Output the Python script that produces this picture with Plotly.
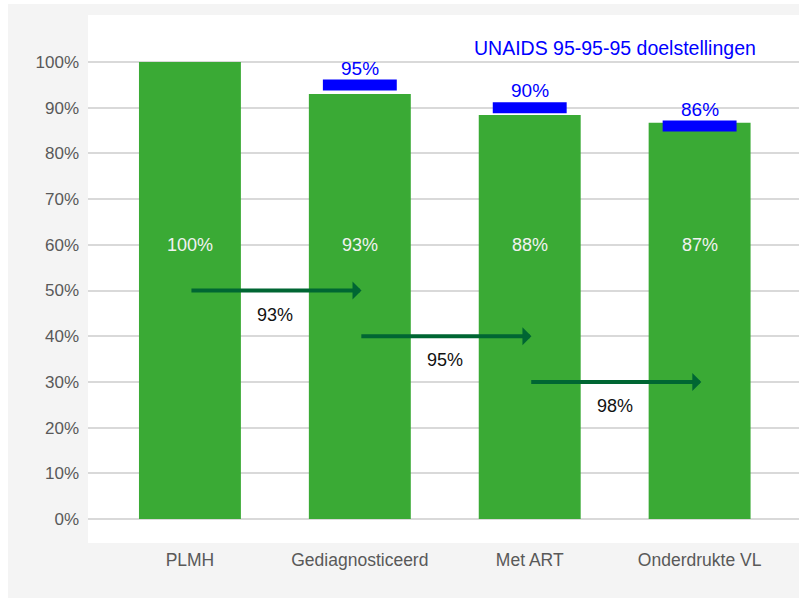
import plotly.graph_objects as go

categories = ["PLMH", "Gediagnosticeerd", "Met ART", "Onderdrukte VL"]
values = [100, 93, 88.4, 86.7]
value_labels = ["100%", "93%", "88%", "87%"]
targets = [95, 90, 86]
target_labels = ["95%", "90%", "86%"]
conversion_labels = ["93%", "95%", "98%"]
arrow_levels = [50, 40, 30]
y_ticks = list(range(0, 101, 10))
y_tick_labels = [f"{t}%" for t in y_ticks]
target_title = "UNAIDS 95-95-95 doelstellingen"

GREEN = "#3aaa35"
DARK_GREEN = "#006633"
BLUE = "#0000ff"
FONT = "Liberation Sans, Arial, sans-serif"

x_idx = list(range(len(categories)))

fig = go.Figure()
fig.add_trace(go.Bar(
    x=x_idx, y=values, width=0.6, marker=dict(color=GREEN, line=dict(width=0)),
    hoverinfo="skip",
))
target_thickness = 2.4
fig.add_trace(go.Bar(
    x=x_idx[1:], y=[target_thickness] * len(targets),
    base=[t - target_thickness / 2 for t in targets],
    width=0.435, marker=dict(color=BLUE, line=dict(width=0)), hoverinfo="skip",
))

annotations = []
for i, lab in enumerate(value_labels):
    annotations.append(dict(x=i, y=60, xref="x", yref="y", text=lab, showarrow=False,
                            font=dict(color="#f2f2f2", size=18, family=FONT)))
for i, (t, lab) in enumerate(zip(targets, target_labels)):
    annotations.append(dict(x=i + 1, y=t + 3.7, xref="x", yref="y", text=lab, showarrow=False,
                            font=dict(color=BLUE, size=19, family=FONT)))
for i, (lvl, lab) in enumerate(zip(arrow_levels, conversion_labels)):
    annotations.append(dict(x=i + 1.01, y=lvl, ax=i, ay=lvl, xref="x", yref="y",
                            axref="x", ayref="y", text="", showarrow=True,
                            arrowhead=1, arrowsize=0.75, arrowwidth=4,
                            arrowcolor=DARK_GREEN, standoff=0, startstandoff=0))
    annotations.append(dict(x=i + 0.5, y=lvl - 5.3, xref="x", yref="y", text=lab,
                            showarrow=False, font=dict(color="#111111", size=18, family=FONT)))
annotations.append(dict(x=2.5, y=103.1, xref="x", yref="y", text=target_title, showarrow=False,
                        font=dict(color=BLUE, size=19.5, family=FONT)))

# plot area: x 88..799 px, y 15..543 px
pw, ph = 711, 528
shapes = [
    dict(type="rect", xref="paper", yref="paper", layer="below",
         x0=-88 / pw, x1=-80 / pw, y0=-55 / ph, y1=583 / ph,
         fillcolor="white", line=dict(width=0)),
    dict(type="rect", xref="paper", yref="paper", layer="below",
         x0=-88 / pw, x1=1, y0=539 / ph, y1=583 / ph,
         fillcolor="white", line=dict(width=0)),
]

fig.update_layout(
    width=799, height=598,
    margin=dict(l=88, r=0, t=15, b=55),
    paper_bgcolor="#f4f4f4", plot_bgcolor="white",
    barmode="overlay", showlegend=False, hovermode=False,
    font=dict(family=FONT, color="#595959", size=17),
    annotations=annotations, shapes=shapes,
    xaxis=dict(range=[-0.6, 3.585], tickmode="array", tickvals=x_idx, ticktext=categories,
               showgrid=False, zeroline=False, showline=False, ticks="",
               tickfont=dict(size=17.5, color="#595959"), ticklabelstandoff=4),
    yaxis=dict(range=[-5.25, 110.3], tickmode="array", tickvals=y_ticks, ticktext=y_tick_labels,
               showgrid=True, gridcolor="#d9d9d9", gridwidth=2, zeroline=False,
               showline=False, ticks="", tickfont=dict(size=17, color="#595959"),
               ticklabelstandoff=8),
)

fig.write_html("out.html", config={"displayModeBar": False},
               post_script="document.body.style.margin='0';")
